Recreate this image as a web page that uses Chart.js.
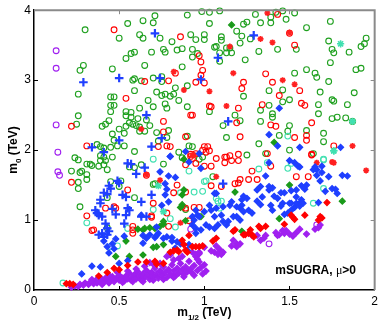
<!DOCTYPE html>
<html>
<head>
<meta charset="utf-8">
<script src="https://cdn.jsdelivr.net/npm/chart.js@4"></script>
<style>
  html, body { margin: 0; padding: 0; background: #fff; }
  #wrap { width: 382px; height: 327px; }
</style>
</head>
<body>
<div id="wrap"><canvas id="grafico" width="382" height="327"></canvas></div>
<script>
// axis ticks
const xTicks = [0, 0.5, 1, 1.5, 2];
const yTicks = [0, 1, 2, 3, 4];

// points [m1/2, m0] in TeV
const greenOpen = [
  [0.30,3.72],[0.50,3.60],[0.55,3.81],[0.64,3.85],[0.71,3.92],[0.70,3.82],[0.74,3.60],[0.62,3.65],[0.64,3.60],
  [0.57,3.38],[0.59,3.40],[0.54,3.31],[0.69,3.40],[0.76,3.44],[0.77,3.40],[0.81,3.55],[0.84,3.43],[0.87,3.45],
  [0.90,3.93],[0.92,3.65],[0.46,3.16],[0.29,3.21],[0.27,3.14],[0.65,3.21],[0.87,3.19],[0.26,2.80],[0.70,3.03],
  [0.75,3.05],[0.58,3.00],[0.59,3.02],[0.63,2.99],[0.75,2.98],[0.90,2.92],[0.83,2.89],[0.72,2.83],[0.77,2.80],
  [0.80,2.77],[0.82,2.80],[0.75,2.78],[0.45,2.76],[0.47,2.76],[0.59,2.85],[0.26,2.49],[0.25,2.37],[0.45,2.64],
  [0.47,2.64],[0.45,2.55],[0.54,2.55],[0.57,2.54],[0.62,2.60],[0.67,2.71],[0.70,2.62],[0.77,2.66],[0.78,2.60],
  [0.85,2.71],[0.90,2.62],[0.54,2.49],[0.57,2.47],[0.61,2.45],[0.56,2.39],[0.54,2.34],[0.58,2.37],[0.60,2.35],
  [0.62,2.33],[0.66,2.43],[0.68,2.35],[0.65,2.27],[0.62,2.27],[0.50,2.30],[0.53,2.24],[0.40,2.34],[0.42,2.37],
  [0.44,2.42],[0.46,2.23],[0.47,2.14],[0.49,2.06],[0.53,2.06],[0.45,2.04],[0.37,2.08],[0.39,2.05],[0.41,2.03],
  [0.39,1.92],[0.41,1.90],[0.46,1.90],[0.59,1.98],[0.73,2.13],[0.72,2.25],[0.79,2.28],[0.78,2.18],[0.90,2.20],
  [0.85,1.97],[0.87,1.89],[0.91,2.06],[0.24,1.89],[0.26,1.86],[0.31,1.80],[0.33,1.80],[0.39,1.85],[0.42,1.85],
  [0.76,1.80],
  [0.985,3.98],[1.03,3.97],[1.09,3.99],[1.03,3.81],[1.30,3.94],[1.42,3.97],[1.46,3.99],[1.53,3.96],[1.39,3.90],
  [1.39,3.82],[1.33,3.82],[1.23,3.80],[1.25,3.83],[1.48,3.87],[1.60,3.75],[1.74,3.84],[1.19,3.70],[1.22,3.63],
  [1.27,3.59],[1.10,3.62],[1.10,3.57],[1.00,3.65],[1.00,3.58],[0.95,3.58],[1.21,3.53],[1.07,3.48],[1.06,3.47],
  [1.13,3.46],[1.15,3.46],[1.16,3.39],[1.13,3.39],[1.09,3.39],[0.93,3.44],[0.96,3.38],[0.93,3.33],[1.09,3.27],
  [1.32,3.41],[1.43,3.44],[1.54,3.44],[1.24,3.29],[1.73,3.56],[1.75,3.44],[1.76,3.39],[1.85,3.40],[1.92,3.48],
  [1.94,3.52],[1.95,3.60],[1.74,3.25],[1.60,3.15],[1.65,3.10],[1.66,3.04],[1.53,3.10],[1.38,2.85],[1.46,2.86],
  [1.23,2.77],[1.50,2.72],[1.46,2.69],[1.33,2.57],[1.38,2.64],[1.40,2.52],[1.40,2.47],[1.33,2.41],[1.21,2.42],
  [1.18,2.50],[1.68,2.83],[1.67,2.65],[1.73,2.98],[1.88,2.82],[1.89,3.15],[1.92,3.17],[1.76,2.70],[1.75,2.72],
  [1.67,2.52],[1.75,2.45],[1.78,2.47],[1.83,2.46],[1.87,2.41],[1.84,2.65],[1.03,2.55],[1.11,2.35],[1.50,2.35],
  [1.49,2.27],[1.60,2.28],[1.70,2.24],[1.13,2.18],[1.44,2.21],[1.32,2.09],[1.36,1.95],[1.50,2.00],[1.70,2.12],
  [1.64,1.95],[1.25,1.93],[0.93,2.05],[0.97,1.87],[0.99,1.90],
  [0.22,1.70],[0.27,1.68],[0.28,1.70],[0.31,1.65],[0.31,1.58],[0.26,1.54],[0.26,1.45],[0.34,1.78],[0.38,1.77],
  [0.43,1.72],[0.41,1.79],[0.56,1.76],[0.59,1.75],[0.51,1.56],[0.50,1.48],[0.59,1.32],[0.43,1.32],[0.27,1.19],
  [0.71,1.52],[0.70,1.51],[0.43,0.89],[0.89,1.15],[1.05,1.62],[0.45,1.55],[0.63,1.79]
];

const redOpen = [
  [0.47,3.72],[0.86,3.62],[0.54,2.74],[0.65,2.98],[0.79,2.99],[0.83,3.10],[0.92,2.50],[0.76,2.41],[0.76,2.26],
  [0.89,2.19],[0.80,2.05],[0.78,2.06],[0.73,2.05],[0.31,2.06],[0.22,2.34],[0.92,1.91],
  [1.43,3.94],[1.53,3.50],[1.50,3.67],[0.97,3.35],[0.98,3.26],[0.99,3.14],[0.98,3.07],[0.95,2.97],[1.00,2.96],
  [1.23,2.97],[1.36,3.09],[1.40,2.97],[1.56,2.85],[1.44,2.78],[1.22,2.88],[1.04,2.62],[1.03,2.63],[1.20,2.60],
  [1.34,2.65],[1.57,2.67],[1.59,2.64],[1.19,2.39],[1.39,2.36],[1.42,2.34],[1.63,2.39],[1.21,2.19],[1.53,2.18],
  [1.60,2.21],[1.60,2.14],[1.00,2.05],[1.02,2.05],[0.99,2.00],[1.01,1.97],[1.03,1.99],[0.93,2.50],[1.12,1.90],
  [1.13,1.90],[1.16,1.85],[1.20,1.85],[1.37,1.95],[1.76,2.06],[1.63,1.93],[1.12,1.82],[0.95,1.95],[1.07,1.88],
  [1.15,1.92],[1.20,1.94],[1.00,1.77],[1.04,1.77],
  [0.22,1.54],[0.31,1.06],[0.42,1.17],[0.47,1.19],[0.48,1.17],[0.55,1.43],[0.66,1.64],[0.58,0.86],[0.58,0.81],
  [0.58,0.91],[0.69,1.04],[0.82,1.39],[0.87,1.19],[0.89,1.17],[0.79,0.91],[0.92,1.94],[0.93,1.88],[0.89,1.79],
  [0.95,1.81],[0.84,1.50],[0.89,1.40],[0.70,1.24],[0.69,1.06],[0.78,1.10],[0.91,0.99],[0.35,0.86],[0.34,0.85],
  [1.20,1.53],[1.21,1.58],[1.26,1.58],[1.31,1.58],[1.28,1.70],[1.39,1.77],[1.54,1.62],[1.61,1.62],[1.63,1.94],
  [0.94,1.18],[0.97,1.18],[1.10,1.48],[1.18,1.52],[1.04,1.49]
];

const redStar = [
  [0.82,3.12],[0.88,2.86],[0.63,2.30],[1.50,3.68],[1.37,3.96],[1.40,3.54],[1.33,3.59],[1.15,3.48],[1.17,3.10],
  [1.46,3.00],[1.53,2.94],[1.03,2.84],[1.13,2.63],[0.94,1.93],[1.87,2.06],[1.66,1.82],[1.76,1.82],[0.66,1.65],
  [0.74,1.57],[0.86,0.96],[1.95,1.71],[1.75,1.83],[1.07,1.62],[0.93,1.93]
];

const redFill = [
  [0.19,0.09],[0.21,0.09],[0.23,0.08],[0.38,0.20],[0.43,0.25],[0.47,0.31],[0.50,0.29],[0.55,0.35],[0.61,0.40],
  [0.66,0.40],[0.71,0.41],[0.72,0.37],[0.76,0.38],[0.80,0.54],[0.82,0.56],[0.84,0.57],[0.85,0.55],[0.89,0.57],
  [0.90,0.54],[0.93,0.62],[0.95,0.62],[0.97,0.62],[0.99,0.63],[1.05,0.70],[1.07,0.74],[1.17,0.84],[1.18,0.86],
  [1.23,0.79],[1.24,0.79],[1.26,0.81],[1.27,0.86],[1.28,0.79],[1.29,0.76],[1.32,0.91],[1.33,0.88],[1.36,0.91],
  [1.47,0.94],[1.51,1.07],[1.52,1.04],[1.53,1.01],[1.59,1.07],[1.68,1.05],[1.69,1.03],[1.67,1.00],[1.72,1.25],
  [0.87,0.71],[0.88,0.65],[0.91,0.78]
];

const bluePlus = [
  [0.71,3.67],[0.29,2.97],[0.50,3.03],[0.74,3.03],[0.66,2.50],[0.75,2.17],[0.50,2.14],[0.69,2.05],[0.34,2.04],
  [0.41,1.97],[0.55,1.81],[1.29,3.64],[1.08,3.32],[1.14,2.41],[0.98,3.01],[1.11,1.52],
  [0.57,1.80],[0.65,1.75],[0.60,1.66],[0.49,1.56],[0.50,1.53],[0.44,1.49],[0.45,1.45],[0.41,1.39],[0.43,1.37],
  [0.52,1.36],[0.54,1.33],[0.63,1.26],[0.69,1.36],[0.39,1.29],[0.39,1.24],[0.36,1.14],[0.37,1.10],[0.38,1.07],
  [0.40,1.05],[0.46,1.16],[0.48,1.08],[0.55,1.17],[0.56,1.14],[0.54,1.07],[0.53,0.95],[0.63,1.05],[0.66,1.05],
  [0.42,0.95],[0.43,0.88],[0.40,0.81],[0.38,0.79],[0.41,0.76],[0.43,0.79],[0.44,0.84]
];

const blueFill = [
  [0.80,1.91],[0.91,1.83],[0.89,1.98],[1.44,2.60],[1.38,2.22],[1.43,2.06],[1.56,2.04],[1.80,2.04],[0.97,1.95],
  [1.50,1.85],[1.53,1.82],[1.38,1.82],[0.74,1.69],[0.79,1.63],[0.83,1.61],[0.80,1.91],[0.77,1.52],[0.78,1.44],
  [0.77,1.36],[0.79,1.26],[0.63,1.07],[0.95,1.14],[0.96,1.07],[0.72,0.90],[0.73,0.81],[0.95,0.81],[0.75,1.21],
  [0.53,0.77],[0.43,0.62],[0.47,0.59],[0.41,0.70],[0.44,0.53],[0.28,0.23],[0.34,0.34],[0.39,0.33],[0.50,0.38],
  [0.55,0.42],[0.64,0.67],[0.66,0.74],[0.64,0.78],[0.68,0.79],[0.71,0.75],[0.72,0.78],[0.76,0.74],[0.78,0.76],
  [0.81,0.75],[0.81,0.70],[0.84,0.69],[0.86,0.66],[0.83,0.60],[0.91,0.65],[0.90,0.57],[0.46,0.66],[0.48,0.73],
  [1.06,1.38],[1.07,1.38],[1.36,1.63],[1.38,1.48],[1.34,1.33],[1.45,1.39],[1.47,1.39],[1.39,1.21],[1.40,1.14],
  [1.46,1.24],[1.50,1.24],[1.54,1.33],[1.51,1.14],[1.49,1.10],
  [1.03,1.21],[1.04,1.14],[1.00,1.12],[0.97,1.05],[0.93,1.05],[0.94,1.00],[1.07,1.17],[1.06,1.05],[1.10,1.07],
  [1.11,1.19],[1.15,1.21],[1.16,1.26],[1.19,1.19],[1.21,1.17],[1.22,1.29],[1.22,1.21],[1.23,1.12],[1.26,1.14],
  [1.28,1.10],[1.17,1.05],[1.19,1.05],[1.21,1.00],[1.11,0.98],[1.13,0.93],[1.14,0.98],[1.08,0.93],[1.06,0.88],
  [1.03,0.90],[1.01,0.93],[0.95,0.88],[0.98,0.86],[0.93,0.93],[1.31,1.27],[1.33,1.22],[1.31,1.43],[1.33,1.48],
  [1.23,1.34],[1.25,1.31],[1.38,1.43],[1.40,1.46],[1.41,1.34],[1.43,1.31],[1.45,1.20],[1.47,1.08],
  [0.98,1.74],[1.55,1.77],[1.66,1.72],[1.69,1.77],[1.56,1.76],[1.65,1.76],[1.64,1.72],[1.69,1.68],[1.66,1.64],
  [1.68,1.56],[1.73,1.62],[1.81,1.64],[1.84,1.63],[1.57,1.49],[1.60,1.50],[1.59,1.44],[1.54,1.43],[1.51,1.42],
  [1.75,1.45],[1.77,1.44],[1.78,1.38],[1.71,1.41],[1.67,1.25],[1.57,1.29],[1.56,1.24],[1.54,1.24],[1.51,1.24],
  [1.53,1.18],[1.56,1.20],[1.58,1.24]
];

const greenFill = [
  [0.88,1.87],[1.16,3.79],[1.41,2.11],[0.65,0.88],[0.61,0.87],[0.71,0.88],[0.74,0.91],[0.76,0.94],[0.54,0.70],
  [0.70,0.61],[0.72,0.62],[0.76,0.65],[0.64,0.50],[0.48,0.48],[0.56,0.48],[0.87,1.22],[1.50,1.50],[1.44,1.02],
  [1.81,1.27],[1.18,1.40],[0.88,1.43],[0.87,1.36],[0.86,1.18],[0.76,0.98],[0.89,0.99],[0.68,0.89],[0.64,0.86],
  [1.22,0.84],[0.98,1.05]
];

const cyanOpen = [
  [0.70,1.87],[1.49,2.20],[1.70,1.86],[1.37,1.82],[0.31,0.96],[0.55,0.88],[0.45,0.62],[0.49,0.63],[0.70,1.15],
  [0.86,1.39],[0.17,0.10],[1.32,1.73],[1.49,1.74],[1.70,1.45],[1.64,1.24],[1.00,1.55],[1.01,1.56],[0.94,1.40],
  [0.99,1.41],[1.07,1.31],[1.08,1.27],[1.10,1.27],[1.09,1.17],[0.80,1.02],[0.83,0.90],[1.70,1.87],[1.51,1.81],
  [0.91,1.70]
];

const cyanStar = [[1.80,3.52],[1.87,2.41],[1.76,1.99],[0.73,1.49],[0.76,1.12],[1.76,1.99]];

const purpleOpen = [[0.13,3.42],[0.13,3.17],[0.13,2.36],[0.14,1.97],[0.14,1.69],[0.15,1.64],[1.66,0.93],[1.38,0.66],[0.92,0.87]];

const purpleFill = [
  [0.22,0.04],[0.24,0.06],[0.26,0.05],[0.27,0.08],[0.29,0.07],[0.30,0.10],[0.32,0.08],[0.33,0.11],[0.35,0.09],
  [0.36,0.13],[0.37,0.10],[0.39,0.12],[0.40,0.15],[0.41,0.11],[0.42,0.17],[0.43,0.13],[0.45,0.15],[0.46,0.19],
  [0.47,0.12],[0.48,0.16],[0.50,0.14],[0.50,0.21],[0.52,0.17],[0.53,0.13],[0.54,0.20],[0.55,0.16],[0.56,0.24],
  [0.57,0.14],[0.58,0.19],[0.59,0.22],[0.60,0.16],[0.61,0.26],[0.62,0.20],[0.63,0.14],[0.64,0.23],[0.65,0.18],
  [0.66,0.28],[0.67,0.21],[0.68,0.15],[0.69,0.25],[0.70,0.19],[0.71,0.31],[0.72,0.23],[0.73,0.17],[0.74,0.27],
  [0.75,0.21],[0.76,0.33],[0.77,0.25],[0.78,0.18],[0.79,0.29],[0.80,0.22],[0.81,0.36],[0.82,0.27],[0.83,0.20],
  [0.84,0.31],[0.85,0.24],[0.86,0.38],[0.87,0.29],[0.88,0.22],[0.89,0.33],[0.90,0.26],[0.91,0.41],[0.92,0.30],
  [0.93,0.24],[0.94,0.35],[0.96,0.28],[0.97,0.40],[0.98,0.32],[1.00,0.36],[1.01,0.27],[0.40,0.08],[0.44,0.10],
  [0.52,0.11],[0.58,0.12],[0.64,0.12],[0.70,0.14],[0.76,0.15],[0.82,0.18],[0.88,0.19],[0.94,0.21],[0.99,0.23],
  [0.34,0.15],[0.38,0.18],[0.44,0.21],[0.49,0.25],[0.55,0.27],[0.60,0.30],[0.65,0.34],[0.70,0.37],[0.74,0.38],
  [0.68,0.39],[0.78,0.48],[0.80,0.50],[0.82,0.43],[0.85,0.45],[0.87,0.48],[0.95,0.48],[0.96,0.44],[0.97,0.52],
  [0.93,0.54],[0.95,0.51],[0.97,0.54],[1.00,0.61],[1.04,0.56],[1.06,0.54],[1.07,0.63],[1.09,0.58],[1.11,0.54],
  [1.08,0.51],[1.10,0.51],[1.16,0.63],[1.19,0.66],[1.21,0.66],[1.17,0.71],[1.19,0.62],[1.33,0.71],[1.35,0.74],
  [1.28,0.78],[1.31,0.78],[1.36,0.78],[1.42,0.82],[1.43,0.78],[1.46,0.85],[1.48,0.85],[1.50,0.80],[1.54,0.82],
  [1.56,0.87],[1.60,0.80],[1.65,0.87],[1.67,0.89],[1.44,0.79],[1.47,0.81],[1.52,0.77],[1.68,0.93]
];

const toXY = (arr) => arr.map(([x, y]) => ({ x, y }));

function serie(data, style, color, fill, radius, width) {
  return {
    data: toXY(data),
    pointStyle: style,
    pointRadius: radius,
    pointHoverRadius: radius,
    pointBorderColor: color,
    pointBackgroundColor: fill,
    pointBorderWidth: width,
    showLine: false,
    clip: false,
  };
}

const datasets = [
  serie(redFill, "rectRot", "#ff0000", "#ff0000", 3.0, 1.2),
  serie(blueFill, "rectRot", "#1f3fff", "#1f3fff", 3.0, 1.2),
  serie(greenFill, "rectRot", "#1a9a1a", "#1a9a1a", 3.0, 1.2),
  serie(purpleFill, "rectRot", "#a020f0", "#a020f0", 3.0, 1.2),
  serie(bluePlus, "cross", "#1f3fff", "#1f3fff", 4.3, 2.2),
  serie(redStar, "star", "#ff2020", "#ff2020", 3.0, 1.6),
  serie(cyanStar, "star", "#40e0b0", "#40e0b0", 3.6, 1.6),
  serie(redOpen, "circle", "#ff0000", "rgba(255,255,255,0)", 2.9, 1.1),
  serie(cyanOpen, "circle", "#40e0b0", "rgba(255,255,255,0)", 2.9, 1.1),
  serie(purpleOpen, "circle", "#a020f0", "rgba(255,255,255,0)", 2.9, 1.1),
  serie(greenOpen, "circle", "#1fa01f", "rgba(255,255,255,0)", 2.9, 1.1),
];

// frame, inward ticks, axis titles and the note
const decor = {
  id: "decor",
  afterDraw(chart) {
    const { ctx, chartArea: a, scales } = chart;
    const sx = scales.x, sy = scales.y;
    ctx.save();
    ctx.strokeStyle = "#8a8a8a";
    ctx.lineWidth = 2;
    ctx.beginPath();
    ctx.moveTo(a.left, a.top);
    ctx.lineTo(a.right, a.top);
    ctx.lineTo(a.right, a.bottom);
    ctx.stroke();

    ctx.lineWidth = 1;
    xTicks.slice(1, -1).forEach((v) => {
      const p = Math.round(sx.getPixelForValue(v)) + 0.5;
      ctx.strokeStyle = "#000";
      ctx.beginPath(); ctx.moveTo(p, a.bottom); ctx.lineTo(p, a.bottom - 4); ctx.stroke();
      ctx.strokeStyle = "#8a8a8a";
      ctx.beginPath(); ctx.moveTo(p, a.top); ctx.lineTo(p, a.top + 4); ctx.stroke();
    });
    yTicks.slice(1, -1).forEach((v) => {
      const p = Math.round(sy.getPixelForValue(v)) + 0.5;
      ctx.strokeStyle = "#000";
      ctx.beginPath(); ctx.moveTo(a.left, p); ctx.lineTo(a.left + 4, p); ctx.stroke();
      ctx.strokeStyle = "#8a8a8a";
      ctx.beginPath(); ctx.moveTo(a.right, p); ctx.lineTo(a.right - 4, p); ctx.stroke();
    });

    const big = "bold 12px 'Liberation Sans', Arial, sans-serif";
    const small = "bold 8px 'Liberation Sans', Arial, sans-serif";
    function label(x0, y0, sub) {
      ctx.font = big;
      const w1 = ctx.measureText("m").width;
      const w3 = ctx.measureText(" (TeV)").width;
      ctx.font = small;
      const w2 = ctx.measureText(sub).width;
      let x = x0 - (w1 + w2 + w3) / 2;
      ctx.fillStyle = "#000";
      ctx.textBaseline = "alphabetic";
      ctx.textAlign = "left";
      ctx.font = big; ctx.fillText("m", x, y0); x += w1;
      ctx.font = small; ctx.fillText(sub, x, y0 + 4); x += w2;
      ctx.font = big; ctx.fillText(" (TeV)", x, y0);
    }
    label((a.left + a.right) / 2, 316, "1/2");
    ctx.save();
    ctx.translate(17, 150);
    ctx.rotate(-Math.PI / 2);
    label(0, 0, "0");
    ctx.restore();

    // note
    ctx.font = big;
    const t1 = "mSUGRA, ", t3 = ">0";
    const f2 = "12px 'Liberation Serif', serif";
    const w1 = ctx.measureText(t1).width, w3 = ctx.measureText(t3).width;
    ctx.font = f2;
    const w2 = ctx.measureText("\u03bc").width;
    let x = 356 - (w1 + w2 + w3);
    const yb = 274;
    ctx.font = big; ctx.fillText(t1, x, yb); x += w1;
    ctx.font = f2; ctx.fillText("\u03bc", x, yb); x += w2;
    ctx.font = big; ctx.fillText(t3, x, yb);
    ctx.restore();
  },
};

new Chart(document.getElementById("grafico"), {
  type: "scatter",
  data: { datasets },
  options: {
    responsive: false,
    animation: false,
    layout: { padding: { top: 10, right: 6, left: 0, bottom: 0 } },
    plugins: { legend: { display: false }, tooltip: { enabled: false } },
    scales: {
      x: {
        type: "linear",
        min: 0,
        max: 2,
        afterBuildTicks: (s) => { s.ticks = xTicks.map((v) => ({ value: v })); },
        afterFit: (s) => { s.height = 37; },
        grid: { display: false, drawTicks: false },
        border: { display: true, color: "#000", width: 1.5 },
        ticks: {
          padding: 4,
          color: "#000",
          font: { family: "'Liberation Sans', Arial, sans-serif", size: 12 },
          callback: (v) => String(v),
        },
      },
      y: {
        type: "linear",
        min: 0,
        max: 4,
        afterBuildTicks: (s) => { s.ticks = yTicks.map((v) => ({ value: v })); },
        afterFit: (s) => { s.width = 34; },
        grid: { display: false, drawTicks: false },
        border: { display: true, color: "#000", width: 1.5 },
        ticks: {
          padding: 3,
          color: "#000",
          font: { family: "'Liberation Sans', Arial, sans-serif", size: 12 },
          callback: (v) => String(v),
        },
      },
    },
  },
  plugins: [decor],
});
</script>
</body>
</html>
